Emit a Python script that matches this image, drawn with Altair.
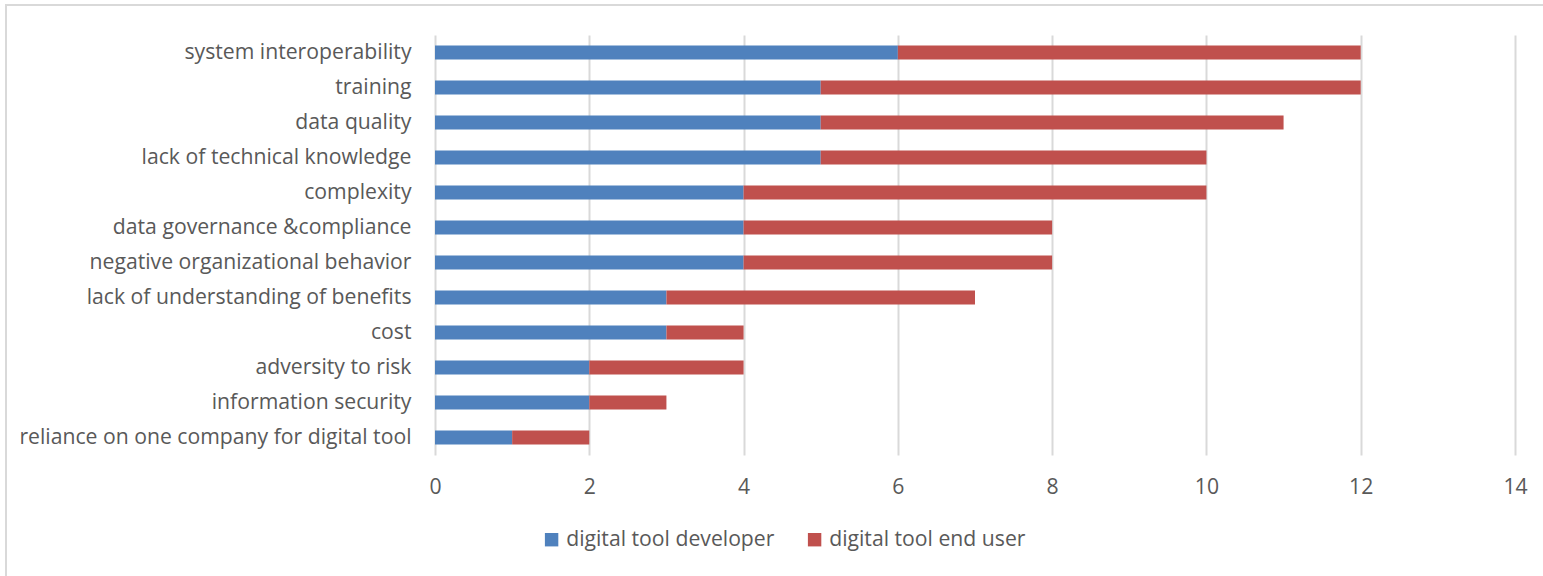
import altair as alt
import pandas as pd

categories = [
    "system interoperability",
    "training\u00a0",
    "data quality",
    "lack of technical knowledge\u00a0",
    "complexity\u00a0",
    "data governance &compliance",
    "negative organizational behavior",
    "lack of understanding of benefits\u00a0",
    "cost",
    "adversity to risk",
    "information security\u00a0",
    "reliance on one company for digital tool",
]
developer = [6, 5, 5, 5, 4, 4, 4, 3, 3, 2, 2, 1]
end_user = [6, 7, 6, 5, 6, 4, 4, 4, 1, 2, 1, 1]
series = ["digital tool developer", "digital tool end user"]
colors = ["#4F81BD", "#C0504D"]

rows = []
for c, d, e in zip(categories, developer, end_user):
    rows.append({"category": c, "series": series[0], "value": d, "ord": 0})
    rows.append({"category": c, "series": series[1], "value": e, "ord": 1})
df = pd.DataFrame(rows)

FONT = "Open Sans"
FS = 21.2

bars = alt.Chart(df).mark_bar().encode(
    y=alt.Y("category:N", sort=categories, title=None,
            scale=alt.Scale(paddingInner=0.6, paddingOuter=0.3),
            axis=alt.Axis(domain=False, ticks=False, labelPadding=24,
                          labelFontSize=FS, labelColor="#595959", labelFont=FONT,
                          labelLimit=500)),
    x=alt.X("value:Q", stack="zero", title=None,
            scale=alt.Scale(domain=[0, 14], nice=False),
            axis=alt.Axis(values=[0, 2, 4, 6, 8, 10, 12, 14], domain=False, ticks=False,
                          grid=True, gridColor="#d9d9d9", gridWidth=2,
                          labelFlush=False,
                          labelPadding=21, labelFontSize=FS, labelColor="#595959",
                          labelFont=FONT)),
    color=alt.Color("series:N", sort=series,
                    scale=alt.Scale(domain=series, range=colors),
                    legend=alt.Legend(title=None, orient="none", direction="horizontal",
                                      legendX=106, legendY=494,
                                      symbolType="square", symbolSize=180,
                                      symbolStrokeWidth=0, labelFontSize=FS,
                                      labelColor="#595959", labelFont=FONT,
                                      labelLimit=400,
                                      columnPadding=29, symbolOffset=0, labelOffset=4)),
    order=alt.Order("ord:Q"),
)

frame = alt.Chart(pd.DataFrame({"a": [0]})).mark_rect(
    fill=None, stroke="#d9d9d9", strokeWidth=2
).encode(
    x=alt.value(-429), x2=alt.value(1140), y=alt.value(-30), y2=alt.value(570)
)

chart = alt.layer(bars, frame).properties(
    width=1080, height=420,
    autosize=alt.AutoSizeParams(type="none"),
    padding={"left": 435, "top": 35, "right": 28, "bottom": 121},
).configure(background="white").configure_view(stroke=None)

chart.save("out.html", embed_options={"renderer": "svg", "actions": False})
